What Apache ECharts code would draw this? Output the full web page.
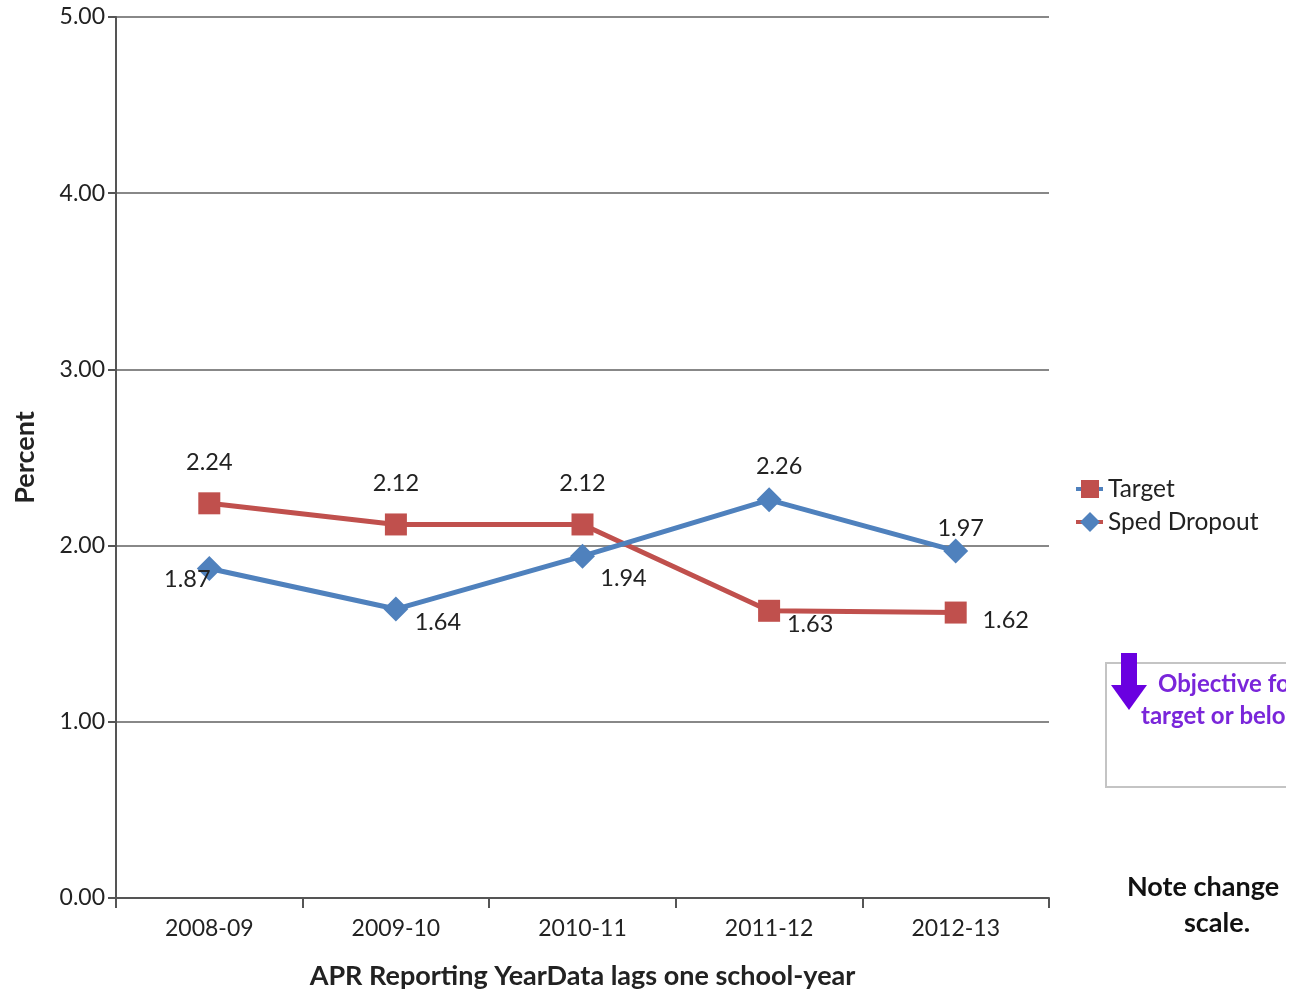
<!DOCTYPE html>
<html>
<head>
<meta charset="utf-8">
<script src="https://cdn.jsdelivr.net/npm/echarts@6/dist/echarts.min.js"></script>
<style>html,body{margin:0;padding:0;background:#fff;}#c{width:1293px;height:995px;}</style>
</head>
<body>
<div id="c"></div>
<script>
const categories = ['2008-09', '2009-10', '2010-11', '2011-12', '2012-13'];
const targetValues = [2.24, 2.12, 2.12, 1.63, 1.62];
const spedDropoutValues = [1.87, 1.64, 1.94, 2.26, 1.97];
const yTicks = [0, 1, 2, 3, 4, 5];
// label placement offsets (style only)
const targetLabelOffsets = [[0,-41],[0,-41],[0,-41],[41,14],[50,8]];
const spedLabelOffsets = [[-22,11],[42,13],[41,22],[10,-33],[5,-22]];

const FONT = 'Lato, "Open Sans", sans-serif';
const RED = '#C0504D', BLUE = '#4F81BD';

function mkData(vals, offs) {
  return vals.map((v, i) => ({
    value: v,
    label: { offset: offs[i] }
  }));
}

const chart = echarts.init(document.getElementById('c'), null, { renderer: 'canvas' });
chart.setOption({
  animation: false,
  backgroundColor: '#fff',
  grid: { left: 116, right: 244, top: 17, bottom: 97, containLabel: false, outerBoundsMode: 'none' },
  xAxis: {
    type: 'category',
    data: categories,
    boundaryGap: true,
    name: 'APR Reporting YearData lags one school-year',
    nameLocation: 'middle',
    nameGap: 65,
    nameTextStyle: { fontFamily: FONT, fontSize: 27, fontWeight: 'bold', color: '#222' },
    axisLine: { lineStyle: { color: '#555', width: 2 } },
    axisTick: { show: true, length: 10, lineStyle: { color: '#555', width: 2 } },
    axisLabel: { fontFamily: FONT, fontSize: 23, color: '#222', margin: 19 },
    splitLine: { show: false }
  },
  yAxis: {
    type: 'value',
    min: yTicks[0],
    max: yTicks[yTicks.length - 1],
    interval: 1,
    name: 'Percent',
    nameLocation: 'middle',
    nameGap: 77,
    nameRotate: 90,
    nameTextStyle: { fontFamily: FONT, fontSize: 27, fontWeight: 'bold', color: '#222' },
    axisLine: { show: true, lineStyle: { color: '#555', width: 2 } },
    axisTick: { show: true, length: 8, lineStyle: { color: '#555', width: 2 } },
    axisLabel: { fontFamily: FONT, fontSize: 23, color: '#222', margin: 11, formatter: v => v.toFixed(2) },
    splitLine: { show: true, lineStyle: { color: '#888', width: 2 } }
  },
  series: [
    {
      name: 'Target',
      type: 'line',
      data: mkData(targetValues, targetLabelOffsets),
      symbol: 'rect',
      symbolSize: 22,
      lineStyle: { color: RED, width: 5 },
      itemStyle: { color: RED },
      label: { show: true, position: 'inside', fontFamily: FONT, fontSize: 23.5, color: '#222', formatter: p => p.value.toFixed(2) },
      z: 2
    },
    {
      name: 'Sped Dropout',
      type: 'line',
      data: mkData(spedDropoutValues, spedLabelOffsets),
      symbol: 'diamond',
      symbolSize: 25,
      lineStyle: { color: BLUE, width: 5 },
      itemStyle: { color: BLUE },
      label: { show: true, position: 'inside', fontFamily: FONT, fontSize: 23.5, color: '#222', formatter: p => p.value.toFixed(2) },
      z: 3
    }
  ],
  graphic: [
    // legend: Target
    { type: 'line', shape: { x1: 1076, y1: 489, x2: 1103, y2: 489 }, style: { stroke: BLUE, lineWidth: 4 } },
    { type: 'rect', shape: { x: 1081, y: 480, width: 18, height: 18 }, style: { fill: RED } },
    { type: 'text', x: 1108, y: 489, style: { text: 'Target', font: '24.5px ' + FONT, fill: '#222', verticalAlign: 'middle' } },
    // legend: Sped Dropout
    { type: 'line', shape: { x1: 1076, y1: 522, x2: 1103, y2: 522 }, style: { stroke: RED, lineWidth: 4 } },
    { type: 'polygon', shape: { points: [[1090, 512], [1100, 522], [1090, 532], [1080, 522]] }, style: { fill: BLUE } },
    { type: 'text', x: 1108, y: 522, style: { text: 'Sped Dropout', font: '24.5px ' + FONT, fill: '#222', verticalAlign: 'middle' } },
    // objective box
    { type: 'rect', shape: { x: 1106, y: 663, width: 220, height: 124 }, style: { fill: '#fff', stroke: '#c4c4c4', lineWidth: 2 } },
    { type: 'rect', shape: { x: 1121, y: 653, width: 16, height: 34 }, style: { fill: '#6A00E0' } },
    { type: 'polygon', shape: { points: [[1111, 685], [1147, 685], [1129, 710]] }, style: { fill: '#6A00E0' } },
    { type: 'text', x: 1158, y: 684, style: { text: 'Objective for', font: 'bold 24px ' + FONT, fill: '#7A26DA', verticalAlign: 'middle' } },
    { type: 'text', x: 1141, y: 716, style: { text: 'target or below', font: 'bold 24px ' + FONT, fill: '#7A26DA', verticalAlign: 'middle' } },
    // right-edge crop of the objective box, as in the source image
    { type: 'rect', z: 200, shape: { x: 1286, y: 640, width: 10, height: 160 }, style: { fill: '#fff' } },
    // note
    { type: 'text', x: 1203, y: 887, style: { text: 'Note change', font: 'bold 27px ' + FONT, fill: '#111', align: 'center', verticalAlign: 'middle' } },
    { type: 'text', x: 1217, y: 923, style: { text: 'scale.', font: 'bold 27px ' + FONT, fill: '#111', align: 'center', verticalAlign: 'middle' } }
  ]
});
</script>
</body>
</html>
